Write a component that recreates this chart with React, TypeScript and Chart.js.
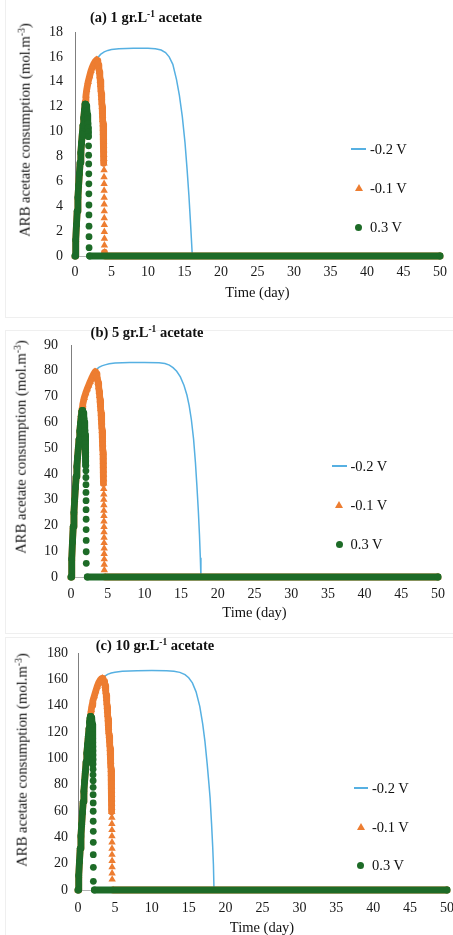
import React, { useEffect, useRef } from "react";
import { Chart, registerables } from "chart.js";

Chart.register(...registerables);

type Pt = [number, number];

const FONT = '"Liberation Serif", "Times New Roman", "DejaVu Serif", serif';

const SERIES = ["-0.2 V", "-0.1 V", "0.3 V"];
const COLOR_NEG02 = "#56b0e2";
const COLOR_NEG01 = "#ed7d31";
const COLOR_POS03 = "#1d6b27";

const X_TICKS = [0, 5, 10, 15, 20, 25, 30, 35, 40, 45, 50];
const Y_TICKS_A = [0, 2, 4, 6, 8, 10, 12, 14, 16, 18];
const Y_TICKS_B = [0, 10, 20, 30, 40, 50, 60, 70, 80, 90];
const Y_TICKS_C = [0, 20, 40, 60, 80, 100, 120, 140, 160, 180];

const PANEL_LABELS = ["(a) 1 gr.L", "(b) 5 gr.L", "(c) 10 gr.L"];
const X_TITLE = "Time (day)";
const Y_TITLE = "ARB acetate consumption (mol.m";

// ---------- (a) 1 gr/L ----------
const A_NEG02: Pt[] = [
  [0, 0], [0.1, 1.3], [0.2, 2.5], [0.3, 3.6], [0.4, 4.7], [0.5, 5.7], [0.6, 6.6], [0.7, 7.5],
  [0.8, 8.3], [0.9, 9.1], [1.0, 9.8], [1.1, 10.5], [1.2, 11.1], [1.3, 11.75], [1.4, 12.4],
  [1.5, 12.9], [1.6, 13.35], [1.8, 14.0], [2.0, 14.45], [2.2, 14.9], [2.4, 15.22], [2.6, 15.47],
  [2.8, 15.66], [2.97, 15.78], [3.2, 16.0], [3.5, 16.2], [4.0, 16.4], [4.5, 16.52], [5.0, 16.6],
  [6.0, 16.66], [8.0, 16.7], [10.0, 16.7], [11.0, 16.66], [11.8, 16.55], [12.4, 16.35],
  [12.9, 16.0], [13.4, 15.4], [13.9, 14.2], [14.3, 12.9], [14.7, 11.2], [15.07, 9.1],
  [15.35, 7.0], [15.6, 4.9], [15.8, 2.9], [15.95, 1.3], [16.07, 0], [50, 0],
];
const A_NEG01: Pt[] = [
  [0, 0], [0.1, 1.3], [0.2, 2.5], [0.3, 3.6], [0.4, 4.7], [0.5, 5.7], [0.6, 6.6], [0.7, 7.5],
  [0.8, 8.3], [0.9, 9.1], [1.0, 9.8], [1.1, 10.5], [1.2, 11.1], [1.3, 11.75], [1.4, 12.4],
  [1.5, 12.9], [1.6, 13.35], [1.8, 14.0], [2.0, 14.45], [2.2, 14.9], [2.4, 15.22], [2.6, 15.47],
  [2.8, 15.66], [2.97, 15.76],
  [3.05, 15.7], [3.13, 15.55], [3.2, 15.35], [3.27, 15.1], [3.34, 14.8], [3.4, 14.45],
  [3.46, 14.1], [3.51, 13.75], [3.56, 13.4], [3.6, 13.05], [3.64, 12.7], [3.68, 12.35],
  [3.72, 12.0], [3.75, 11.65], [3.78, 11.3], [3.81, 10.95], [3.84, 10.6], [3.86, 10.25],
  [3.88, 9.9], [3.9, 9.55], [3.92, 9.2], [3.93, 8.85], [3.94, 8.5], [3.95, 8.15], [3.96, 7.8],
  [3.97, 7.45], [3.98, 6.9], [3.98, 6.35], [3.99, 5.8], [3.99, 5.25], [4.0, 4.7], [4.0, 4.15],
  [4.01, 3.6], [4.01, 3.05], [4.02, 2.5], [4.02, 1.95], [4.03, 1.4], [4.03, 0.85], [4.04, 0.3],
  [4.12, 0], [50, 0],
];
const A_POS03: Pt[] = [
  [0, 0], [0.1, 1.3], [0.2, 2.5], [0.3, 3.6], [0.4, 4.7], [0.5, 5.7], [0.6, 6.6], [0.7, 7.5],
  [0.8, 8.3], [0.9, 9.1], [1.0, 9.8], [1.1, 10.5], [1.2, 11.1], [1.3, 11.7], [1.38, 12.2],
  [1.45, 12.18], [1.52, 12.08], [1.58, 11.9], [1.64, 11.65], [1.69, 11.35], [1.73, 11.0],
  [1.77, 10.65], [1.8, 10.3], [1.82, 9.95], [1.84, 9.6],
  [1.86, 8.85], [1.87, 8.1], [1.88, 7.4], [1.89, 6.6], [1.9, 5.8], [1.9, 5.0], [1.91, 4.1],
  [1.91, 3.3], [1.92, 2.4], [1.92, 1.55], [1.93, 0.67],
  [2.0, 0], [50, 0],
];

// ---------- (b) 5 gr/L ----------
const B_NEG02: Pt[] = [
  [0, 0], [0.1, 7], [0.2, 13.5], [0.3, 19.5], [0.4, 25], [0.5, 30], [0.6, 34.6], [0.7, 38.9],
  [0.8, 42.9], [0.9, 46.6], [1.0, 50.1], [1.1, 53.4], [1.2, 56.6], [1.3, 59.7], [1.4, 63.0],
  [1.5, 65.2], [1.6, 66.9], [1.8, 69.5], [2.0, 71.3], [2.2, 72.9], [2.4, 74.3], [2.6, 75.7],
  [2.8, 77.0], [3.0, 78.2], [3.15, 79.0], [3.27, 79.7], [3.5, 80.6], [3.8, 81.3], [4.2, 81.9],
  [4.63, 82.3], [5.2, 82.7], [6.0, 83.0], [8.0, 83.2], [10.0, 83.2], [12.0, 83.1], [12.8, 82.8],
  [13.4, 82.2], [13.9, 81.2], [14.4, 79.8], [14.9, 77.6], [15.4, 74.3], [15.8, 70.5],
  [16.1, 66.5], [16.4, 61.0], [16.7, 53.5], [16.95, 44.5], [17.15, 35.5], [17.35, 25.5],
  [17.5, 16.5], [17.62, 7.5], [17.7, 0], [50, 0],
];
const B_NEG01: Pt[] = [
  [0, 0], [0.1, 7], [0.2, 13.5], [0.3, 19.5], [0.4, 25], [0.5, 30], [0.6, 34.6], [0.7, 38.9],
  [0.8, 42.9], [0.9, 46.6], [1.0, 50.1], [1.1, 53.4], [1.2, 56.6], [1.3, 59.7], [1.4, 63.0],
  [1.5, 65.2], [1.6, 66.9], [1.8, 69.5], [2.0, 71.3], [2.2, 72.9], [2.4, 74.3], [2.6, 75.7],
  [2.8, 77.0], [3.0, 78.2], [3.15, 79.0], [3.27, 79.6],
  [3.36, 79.4], [3.45, 78.8], [3.54, 77.9], [3.62, 76.7], [3.7, 75.3], [3.77, 73.7],
  [3.84, 72.0], [3.9, 70.3], [3.96, 68.6], [4.01, 66.9], [4.06, 65.2], [4.1, 63.5],
  [4.14, 61.8], [4.18, 60.1], [4.21, 58.4], [4.24, 56.7], [4.27, 55.0], [4.3, 53.3],
  [4.32, 51.6], [4.34, 49.9], [4.36, 48.2], [4.38, 46.5], [4.4, 44.8], [4.41, 43.1],
  [4.42, 41.4], [4.43, 39.7], [4.44, 38.0], [4.45, 36.3],
  [4.46, 34.2], [4.47, 32.1], [4.47, 30.0], [4.48, 27.9], [4.48, 25.8], [4.49, 23.7],
  [4.49, 21.6], [4.5, 19.5], [4.5, 17.4], [4.51, 15.3], [4.51, 13.2], [4.52, 11.1],
  [4.52, 9.0], [4.53, 6.9], [4.53, 4.8], [4.54, 2.7],
  [4.65, 0], [50, 0],
];
const B_POS03: Pt[] = [
  [0, 0], [0.1, 7], [0.2, 13.5], [0.3, 19.5], [0.4, 25], [0.5, 30], [0.6, 34.6], [0.7, 38.9],
  [0.8, 42.9], [0.9, 46.6], [1.0, 50.1], [1.1, 53.4], [1.2, 56.6], [1.3, 59.7], [1.4, 62.4],
  [1.47, 64.0], [1.53, 64.6],
  [1.6, 64.3], [1.66, 63.7], [1.72, 62.8], [1.77, 61.6], [1.82, 60.2], [1.86, 58.6],
  [1.89, 56.9], [1.92, 55.2], [1.94, 53.5], [1.96, 51.8], [1.98, 50.1], [1.99, 48.4],
  [2.0, 46.7], [2.01, 45.0], [2.02, 43.3],
  [2.03, 41.2], [2.03, 38.6], [2.04, 35.8], [2.04, 32.8], [2.05, 29.6], [2.05, 26.1],
  [2.06, 22.4], [2.06, 18.4], [2.07, 14.2], [2.07, 9.8], [2.08, 5.3],
  [2.22, 0], [50, 0],
];

// ---------- (c) 10 gr/L ----------
const C_NEG02: Pt[] = [
  [0, 0], [0.1, 11], [0.2, 21.5], [0.3, 31.5], [0.4, 41], [0.5, 50], [0.6, 58.7], [0.7, 67],
  [0.8, 75], [0.9, 82.7], [1.0, 90.1], [1.1, 97.2], [1.2, 104], [1.3, 110.5], [1.4, 116.7],
  [1.5, 123.0], [1.6, 128.2], [1.7, 132.8], [1.8, 136.8], [1.9, 140.3], [2.0, 143.4],
  [2.2, 147.2], [2.4, 151.0], [2.6, 154.5], [2.8, 157.4], [3.0, 159.4], [3.15, 160.3],
  [3.3, 160.8], [3.6, 162.3], [4.0, 163.8], [4.5, 164.8], [5.0, 165.4], [6.0, 166.1],
  [8.0, 166.6], [10.0, 166.7], [12.0, 166.6], [13.0, 166.2], [13.8, 165.3], [14.5, 163.6],
  [15.0, 161.2], [15.5, 157.3], [16.0, 150.5], [16.5, 139.5], [16.9, 126.0], [17.2, 112.9],
  [17.5, 96.0], [17.75, 80.0], [17.9, 69.9], [18.1, 50.0], [18.25, 33.0], [18.35, 19.2],
  [18.43, 0], [50, 0],
];
const C_NEG01: Pt[] = [
  [0, 0], [0.1, 11], [0.2, 21.5], [0.3, 31.5], [0.4, 41], [0.5, 50], [0.6, 58.7], [0.7, 67],
  [0.8, 75], [0.9, 82.7], [1.0, 90.1], [1.1, 97.2], [1.2, 104], [1.3, 110.5], [1.4, 116.7],
  [1.5, 123.0], [1.6, 128.2], [1.7, 132.8], [1.8, 136.8], [1.9, 140.3], [2.0, 143.4],
  [2.2, 147.2], [2.4, 151.0], [2.6, 154.5], [2.8, 157.4], [3.0, 159.4], [3.15, 160.3],
  [3.3, 160.7],
  [3.38, 160.3], [3.46, 159.6], [3.54, 158.5], [3.61, 157.0], [3.67, 155.2], [3.73, 153.0],
  [3.78, 150.6], [3.83, 148.0], [3.87, 145.2], [3.91, 142.3], [3.95, 139.3], [3.99, 136.2],
  [4.03, 133.0], [4.07, 129.8], [4.11, 126.6], [4.15, 123.4], [4.19, 120.2], [4.23, 117.0],
  [4.27, 113.8], [4.31, 110.6], [4.35, 107.4], [4.38, 104.2], [4.41, 101.0], [4.44, 97.8],
  [4.46, 94.6], [4.48, 91.4], [4.5, 88.2], [4.52, 85.0], [4.53, 81.8], [4.54, 78.6],
  [4.55, 75.4], [4.56, 72.2], [4.57, 69.0], [4.57, 65.8], [4.58, 62.6], [4.58, 59.4],
  [4.59, 55.0], [4.59, 50.3], [4.6, 45.6], [4.6, 40.9], [4.61, 36.2], [4.61, 31.5],
  [4.61, 26.8], [4.62, 22.1], [4.62, 17.4], [4.62, 12.7], [4.63, 8.0],
  [4.75, 0], [50, 0],
];
const C_POS03: Pt[] = [
  [0, 0], [0.1, 11], [0.2, 21.5], [0.3, 31.5], [0.4, 41], [0.5, 50], [0.6, 58.7], [0.7, 67],
  [0.8, 75], [0.9, 82.7], [1.0, 90.1], [1.1, 97.2], [1.2, 104], [1.3, 110.5], [1.4, 116.7],
  [1.5, 122.6], [1.57, 127.5], [1.63, 130.6], [1.68, 131.8],
  [1.74, 131.7], [1.8, 130.9], [1.85, 129.6], [1.89, 127.9], [1.92, 125.8], [1.95, 123.4],
  [1.97, 120.8], [1.98, 118.0], [1.99, 115.1], [2.0, 112.1], [2.01, 109.0], [2.02, 105.8],
  [2.02, 102.6], [2.03, 99.2], [2.03, 95.6], [2.04, 91.7], [2.04, 87.5], [2.05, 83.0],
  [2.05, 78.0], [2.05, 72.4], [2.06, 66.1], [2.06, 59.8], [2.06, 52.2], [2.07, 44.6],
  [2.07, 36.2], [2.07, 26.8], [2.08, 17.2], [2.08, 6.6],
  [2.22, 0], [50, 0],
];

type PanelSpec = {
  id: string;
  label: string;
  canvasTop: number;
  canvasHeight: number;
  pad: { left: number; right: number; top: number; bottom: number };
  yTicks: number[];
  yTickPad: number;
  xTickPad: number;
  neg02: Pt[];
  neg01: Pt[];
  pos03: Pt[];
  title: [number, number];
  yTitle: [number, number];
  xTitle: [number, number];
  legend: { lx1: number; lx2: number; mx: number; tx: number; ys: number[] };
  box: { top: number; height: number };
};

const CANVAS_W = 480;
const Y_AXIS_W = 60;
const X_AXIS_H = 30;

const PANELS: PanelSpec[] = [
  {
    id: "a", label: PANEL_LABELS[0], canvasTop: 0, canvasHeight: 310,
    pad: { left: 75 - Y_AXIS_W, right: CANVAS_W - 440, top: 32, bottom: 310 - 256 - X_AXIS_H },
    yTicks: Y_TICKS_A, yTickPad: 12, xTickPad: 7.5,
    neg02: A_NEG02, neg01: A_NEG01, pos03: A_POS03,
    title: [146, 17], yTitle: [25, 130], xTitle: [257.5, 292],
    legend: { lx1: 351, lx2: 366, mx: 358.5, tx: 370, ys: [149, 188, 227] },
    box: { top: -2, height: 320 },
  },
  {
    id: "b", label: PANEL_LABELS[1], canvasTop: 320, canvasHeight: 310,
    pad: { left: 71 - Y_AXIS_W, right: CANVAS_W - 438, top: 345 - 320, bottom: 310 - (577 - 320) - X_AXIS_H },
    yTicks: Y_TICKS_B, yTickPad: 13, xTickPad: 8.5,
    neg02: B_NEG02, neg01: B_NEG01, pos03: B_POS03,
    title: [147, 332], yTitle: [21, 447], xTitle: [254.5, 612],
    legend: { lx1: 332, lx2: 347, mx: 339.3, tx: 350.5, ys: [466, 505, 544] },
    box: { top: 330, height: 304 },
  },
  {
    id: "c", label: PANEL_LABELS[2], canvasTop: 630, canvasHeight: 305,
    pad: { left: 78 - Y_AXIS_W, right: CANVAS_W - 447, top: 653 - 630, bottom: 305 - (890 - 630) - X_AXIS_H },
    yTicks: Y_TICKS_C, yTickPad: 10, xTickPad: 9.5,
    neg02: C_NEG02, neg01: C_NEG01, pos03: C_POS03,
    title: [155, 645], yTitle: [22, 760], xTitle: [262, 927],
    legend: { lx1: 354, lx2: 368, mx: 360.7, tx: 372, ys: [788, 827, 865] },
    box: { top: 637, height: 320 },
  },
];

const GAP = 5;

function Panel({ spec }: { spec: PanelSpec }) {
  const ref = useRef<HTMLCanvasElement>(null);

  useEffect(() => {
    const canvas = ref.current;
    if (!canvas) return;
    const xy = (arr: Pt[]) => arr.map(([x, y]) => ({ x, y }));
    const markerSeries = (label: string, arr: Pt[], color: string, style: string, radius: number, order: number) => ({
      label,
      data: xy(arr),
      order,
      clip: false,
      borderColor: color,
      backgroundColor: color,
      borderWidth: 6.8,
      borderCapStyle: "round",
      borderJoinStyle: "round",
      tension: 0,
      fill: false,
      pointStyle: style,
      pointRadius: radius,
      pointBackgroundColor: color,
      pointBorderColor: color,
      pointBorderWidth: 0,
      segment: {
        borderColor: (c: any) => (c.p1.y - c.p0.y > GAP ? "rgba(0,0,0,0)" : color),
      },
    });
    const tickFont = { family: FONT, size: 14 };
    const yMax = spec.yTicks[spec.yTicks.length - 1];
    const chart = new Chart(canvas, {
      type: "line",
      data: {
        datasets: [
          markerSeries(SERIES[2], spec.pos03, COLOR_POS03, "circle", 3.4, 0) as any,
          markerSeries(SERIES[1], spec.neg01, COLOR_NEG01, "triangle", 4.3, 1) as any,
          {
            label: SERIES[0],
            data: xy(spec.neg02),
            order: 2,
            borderColor: COLOR_NEG02,
            borderWidth: 1.5,
            pointRadius: 0,
            tension: 0,
            fill: false,
          },
        ],
      },
      options: {
        responsive: false,
        animation: false,
        events: [],
        layout: { padding: spec.pad },
        plugins: { legend: { display: false }, tooltip: { enabled: false }, title: { display: false } },
        scales: {
          x: {
            type: "linear",
            min: X_TICKS[0],
            max: X_TICKS[X_TICKS.length - 1],
            afterBuildTicks: (s: any) => {
              s.ticks = X_TICKS.map((v) => ({ value: v }));
            },
            afterFit: (s: any) => {
              s.height = X_AXIS_H;
            },
            grid: { display: false, drawTicks: false },
            border: { display: true, color: "#b3b3b3", width: 1 },
            ticks: { padding: spec.xTickPad, font: tickFont, color: "#1a1a1a", maxRotation: 0, autoSkip: false },
          },
          y: {
            type: "linear",
            min: spec.yTicks[0],
            max: yMax,
            afterBuildTicks: (s: any) => {
              s.ticks = spec.yTicks.map((v) => ({ value: v }));
            },
            afterFit: (s: any) => {
              s.width = Y_AXIS_W;
            },
            grid: { display: false, drawTicks: false },
            border: { display: true, color: "#7f7f7f", width: 1 },
            ticks: { padding: spec.yTickPad, font: tickFont, color: "#1a1a1a", autoSkip: false },
          },
        },
      } as any,
    });
    return () => chart.destroy();
  }, [spec]);

  const centered = (x: number, y: number): React.CSSProperties => ({
    position: "absolute",
    left: x,
    top: y,
    transform: "translate(-50%, -50%)",
    whiteSpace: "nowrap",
    lineHeight: 1,
  });
  const sup: React.CSSProperties = { fontSize: "0.65em", verticalAlign: "0.5em", lineHeight: 0 };
  const lg = spec.legend;

  return (
    <>
      <div
        style={{
          position: "absolute",
          left: 5,
          top: spec.box.top,
          width: 470,
          height: spec.box.height,
          border: "1px solid #efefef",
          boxSizing: "border-box",
        }}
      />
      <canvas
        ref={ref}
        width={CANVAS_W}
        height={spec.canvasHeight}
        style={{ position: "absolute", left: 0, top: spec.canvasTop, width: CANVAS_W, height: spec.canvasHeight }}
      />
      <div style={{ ...centered(spec.title[0], spec.title[1]), fontWeight: "bold", fontSize: 14.5 }}>
        {spec.label}
        <sup style={sup}>-1</sup> acetate
      </div>
      <div
        style={{
          ...centered(spec.yTitle[0], spec.yTitle[1]),
          transform: "translate(-50%, -50%) rotate(-90deg)",
          fontSize: 14.7,
        }}
      >
        {Y_TITLE}
        <sup style={sup}>-3</sup>)
      </div>
      <div style={{ ...centered(spec.xTitle[0], spec.xTitle[1]), fontSize: 14.5 }}>{X_TITLE}</div>
      {/* legend */}
      <div
        style={{
          position: "absolute",
          left: lg.lx1,
          top: lg.ys[0] - 1,
          width: lg.lx2 - lg.lx1,
          height: 2,
          background: COLOR_NEG02,
        }}
      />
      <div
        style={{
          position: "absolute",
          left: lg.mx - 4,
          top: lg.ys[1] - 4,
          width: 0,
          height: 0,
          borderLeft: "4px solid transparent",
          borderRight: "4px solid transparent",
          borderBottom: `7px solid ${COLOR_NEG01}`,
        }}
      />
      <div
        style={{
          position: "absolute",
          left: lg.mx - 3.5,
          top: lg.ys[2] - 3.5,
          width: 7,
          height: 7,
          borderRadius: "50%",
          background: COLOR_POS03,
        }}
      />
      {SERIES.map((s, i) => (
        <div
          key={s}
          style={{
            position: "absolute",
            left: lg.tx,
            top: lg.ys[i],
            transform: "translateY(-50%)",
            fontSize: 14.5,
            lineHeight: 1,
            whiteSpace: "nowrap",
          }}
        >
          {s}
        </div>
      ))}
    </>
  );
}

export default function App() {
  return (
    <div
      style={{
        position: "absolute",
        left: 0,
        top: 0,
        width: 453,
        height: 935,
        overflow: "hidden",
        background: "#ffffff",
        fontFamily: FONT,
        color: "#111",
      }}
    >
      {PANELS.map((p) => (
        <Panel key={p.id} spec={p} />
      ))}
    </div>
  );
}
